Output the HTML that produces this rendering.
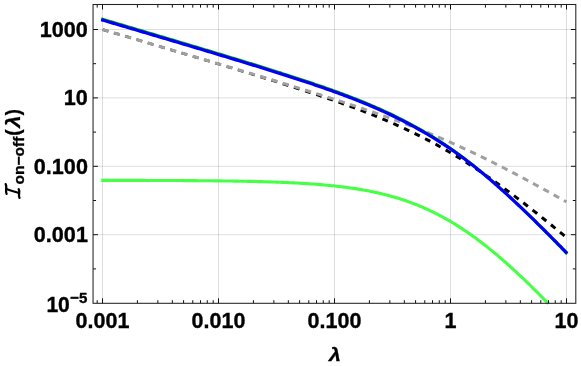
<!DOCTYPE html>
<html><head><meta charset="utf-8"><title>plot</title>
<style>html,body{margin:0;padding:0;background:#fff;}svg{display:block;will-change:transform}</style></head>
<body>
<svg width="581" height="366" viewBox="0 0 581 366">
<rect width="581" height="366" fill="#fff"/>
<path d="M102.50,4.5 V303.3 M218.50,4.5 V303.3 M334.50,4.5 V303.3 M450.50,4.5 V303.3 M566.50,4.5 V303.3 M93.05,29.50 H575.8 M93.05,97.90 H575.8 M93.05,166.30 H575.8 M93.05,234.70 H575.8" stroke="#000" stroke-opacity="0.13" stroke-width="1" fill="none"/>
<path d="M102.50,29.53 L104.05,29.99 L105.60,30.45 L107.16,30.91 L108.71,31.36 L110.26,31.82 L111.81,32.28 L113.36,32.74 L114.91,33.20 L116.47,33.66 L118.02,34.12 L119.57,34.57 L121.12,35.03 L122.67,35.49 L124.23,35.95 L125.78,36.41 L127.33,36.87 L128.88,37.33 L130.43,37.79 L131.98,38.25 L133.54,38.71 L135.09,39.16 L136.64,39.62 L138.19,40.08 L139.74,40.54 L141.30,41.00 L142.85,41.46 L144.40,41.92 L145.95,42.38 L147.50,42.84 L149.06,43.30 L150.61,43.76 L152.16,44.22 L153.71,44.68 L155.26,45.14 L156.81,45.60 L158.37,46.06 L159.92,46.52 L161.47,46.98 L163.02,47.44 L164.57,47.90 L166.13,48.36 L167.68,48.82 L169.23,49.29 L170.78,49.75 L172.33,50.21 L173.88,50.67 L175.44,51.13 L176.99,51.59 L178.54,52.05 L180.09,52.51 L181.64,52.98 L183.20,53.44 L184.75,53.90 L186.30,54.36 L187.85,54.83 L189.40,55.29 L190.95,55.75 L192.51,56.21 L194.06,56.68 L195.61,57.14 L197.16,57.60 L198.71,58.07 L200.27,58.53 L201.82,58.99 L203.37,59.46 L204.92,59.92 L206.47,60.39 L208.03,60.85 L209.58,61.32 L211.13,61.78 L212.68,62.25 L214.23,62.71 L215.78,63.18 L217.34,63.65 L218.89,64.11 L220.44,64.58 L221.99,65.05 L223.54,65.51 L225.10,65.98 L226.65,66.45 L228.20,66.92 L229.75,67.39 L231.30,67.86 L232.85,68.32 L234.41,68.79 L235.96,69.26 L237.51,69.73 L239.06,70.21 L240.61,70.68 L242.17,71.15 L243.72,71.62 L245.27,72.09 L246.82,72.57 L248.37,73.04 L249.92,73.51 L251.48,73.99 L253.03,74.46 L254.58,74.94" stroke="#000" stroke-width="2.6" fill="none" stroke-dasharray="5.8 5.95" stroke-dashoffset="-0.25"/>
<path d="M254.58,74.94 L256.13,75.42 L257.68,75.89 L259.24,76.37 L260.79,76.85 L262.34,77.33 L263.89,77.81 L265.44,78.28 L266.99,78.77 L268.55,79.25 L270.10,79.73 L271.65,80.21 L273.20,80.69 L274.75,81.18 L276.31,81.66 L277.86,82.15 L279.41,82.64 L280.96,83.12 L282.51,83.61 L284.07,84.10 L285.62,84.59 L287.17,85.08 L288.72,85.58 L290.27,86.07 L291.82,86.56 L293.38,87.06 L294.93,87.56 L296.48,88.06 L298.03,88.55 L299.58,89.06 L301.14,89.56 L302.69,90.06 L304.24,90.56 L305.79,91.07 L307.34,91.58 L308.89,92.09 L310.45,92.60 L312.00,93.11 L313.55,93.62 L315.10,94.14 L316.65,94.65 L318.21,95.17 L319.76,95.69 L321.31,96.21 L322.86,96.74 L324.41,97.26 L325.96,97.79 L327.52,98.32 L329.07,98.85 L330.62,99.39 L332.17,99.92 L333.72,100.46 L335.28,101.00 L336.83,101.54 L338.38,102.09 L339.93,102.64 L341.48,103.19 L343.04,103.74 L344.59,104.30 L346.14,104.86 L347.69,105.42 L349.24,105.98 L350.79,106.55 L352.35,107.12 L353.90,107.69 L355.45,108.27 L357.00,108.85 L358.55,109.43 L360.11,110.02 L361.66,110.61 L363.21,111.20 L364.76,111.80 L366.31,112.40 L367.86,113.00 L369.42,113.61 L370.97,114.22 L372.52,114.84 L374.07,115.46 L375.62,116.08 L377.18,116.71 L378.73,117.34 L380.28,117.98 L381.83,118.62 L383.38,119.27 L384.93,119.92 L386.49,120.58 L388.04,121.24 L389.59,121.90 L391.14,122.57 L392.69,123.25 L394.25,123.93 L395.80,124.61 L397.35,125.30 L398.90,126.00 L400.45,126.70 L402.01,127.41 L403.56,128.12 L405.11,128.84 L406.66,129.57 L408.21,130.30 L409.76,131.03 L411.32,131.78 L412.87,132.53 L414.42,133.28 L415.97,134.04 L417.52,134.81 L419.08,135.58 L420.63,136.36 L422.18,137.15 L423.73,137.94 L425.28,138.74 L426.83,139.55 L428.39,140.36 L429.94,141.18 L431.49,142.01 L433.04,142.84 L434.59,143.68 L436.15,144.53 L437.70,145.38 L439.25,146.24 L440.80,147.11 L442.35,147.98 L443.90,148.87 L445.46,149.75 L447.01,150.65 L448.56,151.55 L450.11,152.46 L451.66,153.38 L453.22,154.30 L454.77,155.23 L456.32,156.17 L457.87,157.12 L459.42,158.07 L460.97,159.03 L462.53,159.99 L464.08,160.97 L465.63,161.95 L467.18,162.93 L468.73,163.93 L470.29,164.93 L471.84,165.93 L473.39,166.95 L474.94,167.97 L476.49,169.00 L478.05,170.03 L479.60,171.07 L481.15,172.12 L482.70,173.17 L484.25,174.23 L485.80,175.30 L487.36,176.37 L488.91,177.45 L490.46,178.53 L492.01,179.62 L493.56,180.72 L495.12,181.82 L496.67,182.93 L498.22,184.04 L499.77,185.16 L501.32,186.29 L502.87,187.42 L504.43,188.55 L505.98,189.70 L507.53,190.84 L509.08,191.99 L510.63,193.15 L512.19,194.31 L513.74,195.48 L515.29,196.65 L516.84,197.83 L518.39,199.01 L519.94,200.20 L521.50,201.39 L523.05,202.58 L524.60,203.78 L526.15,204.99 L527.70,206.20 L529.26,207.41 L530.81,208.62 L532.36,209.84 L533.91,211.07 L535.46,212.29 L537.02,213.53 L538.57,214.76 L540.12,216.00 L541.67,217.24 L543.22,218.49 L544.77,219.74 L546.33,220.99 L547.88,222.24 L549.43,223.50 L550.98,224.76 L552.53,226.03 L554.09,227.30 L555.64,228.57 L557.19,229.84 L558.74,231.11 L560.29,232.39 L561.84,233.67 L563.40,234.96 L564.95,236.24 L566.50,237.53" stroke="#000" stroke-width="3" fill="none" stroke-dasharray="5.8 5.95" stroke-dashoffset="5.716"/>
<path d="M102.50,29.51 L104.05,29.97 L105.60,30.43 L107.16,30.89 L108.71,31.35 L110.26,31.80 L111.81,32.26 L113.36,32.72 L114.91,33.18 L116.47,33.64 L118.02,34.10 L119.57,34.55 L121.12,35.01 L122.67,35.47 L124.23,35.93 L125.78,36.39 L127.33,36.84 L128.88,37.30 L130.43,37.76 L131.98,38.22 L133.54,38.68 L135.09,39.14 L136.64,39.59 L138.19,40.05 L139.74,40.51 L141.30,40.97 L142.85,41.43 L144.40,41.89 L145.95,42.35 L147.50,42.80 L149.06,43.26 L150.61,43.72 L152.16,44.18 L153.71,44.64 L155.26,45.10 L156.81,45.56 L158.37,46.02 L159.92,46.47 L161.47,46.93 L163.02,47.39 L164.57,47.85 L166.13,48.31 L167.68,48.77 L169.23,49.23 L170.78,49.69 L172.33,50.15 L173.88,50.61 L175.44,51.07 L176.99,51.53 L178.54,51.99 L180.09,52.45 L181.64,52.91 L183.20,53.36 L184.75,53.82 L186.30,54.28 L187.85,54.74 L189.40,55.20 L190.95,55.66 L192.51,56.12 L194.06,56.59 L195.61,57.05 L197.16,57.51 L198.71,57.97 L200.27,58.43 L201.82,58.89 L203.37,59.35 L204.92,59.81 L206.47,60.27 L208.03,60.73 L209.58,61.19 L211.13,61.65 L212.68,62.12 L214.23,62.58 L215.78,63.04 L217.34,63.50 L218.89,63.96 L220.44,64.43 L221.99,64.89 L223.54,65.35 L225.10,65.81 L226.65,66.28 L228.20,66.74 L229.75,67.20 L231.30,67.66 L232.85,68.13 L234.41,68.59 L235.96,69.06 L237.51,69.52 L239.06,69.98 L240.61,70.45 L242.17,70.91 L243.72,71.38 L245.27,71.84 L246.82,72.31 L248.37,72.77 L249.92,73.24 L251.48,73.71 L253.03,74.17 L254.58,74.64 L256.13,75.11 L257.68,75.57 L259.24,76.04 L260.79,76.51 L262.34,76.98 L263.89,77.44 L265.44,77.91 L266.99,78.38 L268.55,78.85 L270.10,79.32 L271.65,79.79 L273.20,80.26 L274.75,80.73 L276.31,81.20 L277.86,81.68 L279.41,82.15 L280.96,82.62 L282.51,83.09 L284.07,83.57 L285.62,84.04 L287.17,84.51 L288.72,84.99 L290.27,85.47 L291.82,85.94 L293.38,86.42 L294.93,86.90 L296.48,87.37 L298.03,87.85 L299.58,88.33 L301.14,88.81 L302.69,89.29 L304.24,89.77 L305.79,90.25 L307.34,90.74 L308.89,91.22 L310.45,91.70 L312.00,92.19 L313.55,92.67 L315.10,93.16 L316.65,93.65 L318.21,94.13 L319.76,94.62 L321.31,95.11 L322.86,95.60 L324.41,96.09 L325.96,96.59 L327.52,97.08 L329.07,97.58 L330.62,98.07 L332.17,98.57 L333.72,99.07 L335.28,99.57 L336.83,100.07 L338.38,100.57 L339.93,101.07 L341.48,101.57 L343.04,102.08 L344.59,102.59 L346.14,103.09 L347.69,103.60 L349.24,104.11 L350.79,104.63 L352.35,105.14 L353.90,105.66 L355.45,106.17 L357.00,106.69 L358.55,107.21 L360.11,107.73 L361.66,108.26 L363.21,108.78 L364.76,109.31 L366.31,109.84 L367.86,110.37 L369.42,110.90 L370.97,111.44 L372.52,111.97 L374.07,112.51 L375.62,113.05 L377.18,113.60 L378.73,114.14 L380.28,114.69 L381.83,115.24 L383.38,115.79 L384.93,116.34 L386.49,116.90 L388.04,117.46 L389.59,118.02 L391.14,118.59 L392.69,119.15 L394.25,119.72 L395.80,120.29 L397.35,120.87 L398.90,121.44 L400.45,122.02 L402.01,122.61 L403.56,123.19 L405.11,123.78 L406.66,124.37 L408.21,124.97 L409.76,125.56 L411.32,126.16 L412.87,126.77 L414.42,127.37 L415.97,127.98 L417.52,128.59 L419.08,129.21 L420.63,129.83 L422.18,130.45 L423.73,131.07 L425.28,131.70 L426.83,132.34 L428.39,132.97 L429.94,133.61 L431.49,134.25 L433.04,134.90 L434.59,135.55 L436.15,136.20 L437.70,136.85 L439.25,137.51 L440.80,138.17 L442.35,138.84 L443.90,139.51 L445.46,140.18 L447.01,140.86 L448.56,141.54 L450.11,142.22 L451.66,142.91 L453.22,143.60 L454.77,144.30 L456.32,144.99 L457.87,145.69 L459.42,146.40 L460.97,147.11 L462.53,147.82 L464.08,148.53 L465.63,149.25 L467.18,149.98 L468.73,150.70 L470.29,151.43 L471.84,152.16 L473.39,152.90 L474.94,153.64 L476.49,154.38 L478.05,155.13 L479.60,155.87 L481.15,156.63 L482.70,157.38 L484.25,158.14 L485.80,158.90 L487.36,159.67 L488.91,160.43 L490.46,161.21 L492.01,161.98 L493.56,162.76 L495.12,163.54 L496.67,164.32 L498.22,165.11 L499.77,165.89 L501.32,166.69 L502.87,167.48 L504.43,168.28 L505.98,169.08 L507.53,169.88 L509.08,170.68 L510.63,171.49 L512.19,172.30 L513.74,173.11 L515.29,173.93 L516.84,174.74 L518.39,175.56 L519.94,176.39 L521.50,177.21 L523.05,178.04 L524.60,178.87 L526.15,179.70 L527.70,180.53 L529.26,181.36 L530.81,182.20 L532.36,183.04 L533.91,183.88 L535.46,184.72 L537.02,185.57 L538.57,186.41 L540.12,187.26 L541.67,188.11 L543.22,188.96 L544.77,189.82 L546.33,190.67 L547.88,191.53 L549.43,192.38 L550.98,193.24 L552.53,194.11 L554.09,194.97 L555.64,195.83 L557.19,196.70 L558.74,197.56 L560.29,198.43 L561.84,199.30 L563.40,200.17 L564.95,201.04 L566.50,201.92" stroke="#a0a0a0" stroke-width="3" fill="none" stroke-dasharray="6.3 5.45"/>
<path d="M101.20,180.34 L102.76,180.35 L104.32,180.35 L105.88,180.35 L107.43,180.35 L108.99,180.35 L110.55,180.36 L112.11,180.36 L113.67,180.36 L115.23,180.36 L116.79,180.36 L118.34,180.37 L119.90,180.37 L121.46,180.37 L123.02,180.37 L124.58,180.38 L126.14,180.38 L127.69,180.38 L129.25,180.39 L130.81,180.39 L132.37,180.39 L133.93,180.40 L135.49,180.40 L137.05,180.40 L138.60,180.41 L140.16,180.41 L141.72,180.41 L143.28,180.42 L144.84,180.42 L146.40,180.43 L147.96,180.43 L149.51,180.44 L151.07,180.44 L152.63,180.45 L154.19,180.45 L155.75,180.46 L157.31,180.46 L158.87,180.47 L160.42,180.47 L161.98,180.48 L163.54,180.48 L165.10,180.49 L166.66,180.50 L168.22,180.50 L169.78,180.51 L171.33,180.52 L172.89,180.53 L174.45,180.53 L176.01,180.54 L177.57,180.55 L179.13,180.56 L180.68,180.57 L182.24,180.57 L183.80,180.58 L185.36,180.59 L186.92,180.60 L188.48,180.61 L190.04,180.62 L191.59,180.63 L193.15,180.64 L194.71,180.65 L196.27,180.67 L197.83,180.68 L199.39,180.69 L200.95,180.70 L202.50,180.72 L204.06,180.73 L205.62,180.74 L207.18,180.76 L208.74,180.77 L210.30,180.79 L211.86,180.80 L213.41,180.82 L214.97,180.84 L216.53,180.85 L218.09,180.87 L219.65,180.89 L221.21,180.91 L222.77,180.93 L224.32,180.95 L225.88,180.97 L227.44,180.99 L229.00,181.01 L230.56,181.04 L232.12,181.06 L233.67,181.08 L235.23,181.11 L236.79,181.13 L238.35,181.16 L239.91,181.19 L241.47,181.22 L243.03,181.24 L244.58,181.27 L246.14,181.31 L247.70,181.34 L249.26,181.37 L250.82,181.40 L252.38,181.44 L253.94,181.47 L255.49,181.51 L257.05,181.55 L258.61,181.59 L260.17,181.63 L261.73,181.67 L263.29,181.71 L264.85,181.76 L266.40,181.80 L267.96,181.85 L269.52,181.90 L271.08,181.95 L272.64,182.00 L274.20,182.05 L275.76,182.11 L277.31,182.16 L278.87,182.22 L280.43,182.28 L281.99,182.34 L283.55,182.41 L285.11,182.47 L286.66,182.54 L288.22,182.61 L289.78,182.68 L291.34,182.76 L292.90,182.83 L294.46,182.91 L296.02,182.99 L297.57,183.07 L299.13,183.16 L300.69,183.25 L302.25,183.34 L303.81,183.43 L305.37,183.53 L306.93,183.63 L308.48,183.73 L310.04,183.83 L311.60,183.94 L313.16,184.05 L314.72,184.17 L316.28,184.29 L317.84,184.41 L319.39,184.53 L320.95,184.66 L322.51,184.79 L324.07,184.93 L325.63,185.07 L327.19,185.21 L328.75,185.36 L330.30,185.51 L331.86,185.67 L333.42,185.83 L334.98,186.00 L336.54,186.17 L338.10,186.35 L339.65,186.53 L341.21,186.71 L342.77,186.90 L344.33,187.10 L345.89,187.30 L347.45,187.51 L349.01,187.72 L350.56,187.94 L352.12,188.17 L353.68,188.40 L355.24,188.64 L356.80,188.88 L358.36,189.13 L359.92,189.39 L361.47,189.65 L363.03,189.93 L364.59,190.21 L366.15,190.49 L367.71,190.79 L369.27,191.09 L370.83,191.40 L372.38,191.71 L373.94,192.04 L375.50,192.37 L377.06,192.72 L378.62,193.07 L380.18,193.43 L381.74,193.80 L383.29,194.18 L384.85,194.56 L386.41,194.96 L387.97,195.37 L389.53,195.79 L391.09,196.21 L392.64,196.65 L394.20,197.10 L395.76,197.56 L397.32,198.03 L398.88,198.51 L400.44,199.00 L402.00,199.50 L403.55,200.01 L405.11,200.54 L406.67,201.07 L408.23,201.62 L409.79,202.18 L411.35,202.76 L412.91,203.34 L414.46,203.94 L416.02,204.55 L417.58,205.17 L419.14,205.81 L420.70,206.46 L422.26,207.12 L423.82,207.79 L425.37,208.48 L426.93,209.18 L428.49,209.90 L430.05,210.62 L431.61,211.37 L433.17,212.12 L434.73,212.89 L436.28,213.67 L437.84,214.47 L439.40,215.28 L440.96,216.11 L442.52,216.95 L444.08,217.80 L445.63,218.67 L447.19,219.55 L448.75,220.44 L450.31,221.35 L451.87,222.28 L453.43,223.22 L454.99,224.17 L456.54,225.14 L458.10,226.12 L459.66,227.11 L461.22,228.12 L462.78,229.15 L464.34,230.18 L465.90,231.24 L467.45,232.30 L469.01,233.38 L470.57,234.47 L472.13,235.58 L473.69,236.70 L475.25,237.83 L476.81,238.98 L478.36,240.14 L479.92,241.31 L481.48,242.50 L483.04,243.70 L484.60,244.91 L486.16,246.14 L487.72,247.37 L489.27,248.62 L490.83,249.89 L492.39,251.16 L493.95,252.45 L495.51,253.75 L497.07,255.06 L498.62,256.38 L500.18,257.71 L501.74,259.05 L503.30,260.41 L504.86,261.78 L506.42,263.15 L507.98,264.54 L509.53,265.94 L511.09,267.35 L512.65,268.77 L514.21,270.19 L515.77,271.63 L517.33,273.08 L518.89,274.54 L520.44,276.00 L522.00,277.48 L523.56,278.96 L525.12,280.46 L526.68,281.96 L528.24,283.47 L529.80,284.99 L531.35,286.51 L532.91,288.05 L534.47,289.59 L536.03,291.14 L537.59,292.70 L539.15,294.26 L540.71,295.83 L542.26,297.41 L543.82,299.00 L545.38,300.59 L546.94,302.19 L548.50,303.79" stroke="#47ff47" stroke-width="3.1" fill="none"/>
<path d="M101.20,18.66 L102.76,19.12 L104.32,19.58 L105.88,20.04 L107.43,20.50 L108.99,20.97 L110.55,21.43 L112.11,21.89 L113.67,22.35 L115.23,22.81 L116.79,23.27 L118.34,23.73 L119.90,24.20 L121.46,24.66 L123.02,25.12 L124.58,25.58 L126.14,26.04 L127.69,26.50 L129.25,26.97 L130.81,27.43 L132.37,27.89 L133.93,28.35 L135.49,28.81 L137.05,29.28 L138.60,29.74 L140.16,30.20 L141.72,30.66 L143.28,31.13 L144.84,31.59 L146.40,32.05 L147.96,32.51 L149.51,32.98 L151.07,33.44 L152.63,33.90 L154.19,34.36 L155.75,34.83 L157.31,35.29 L158.87,35.75 L160.42,36.22 L161.98,36.68 L163.54,37.15 L165.10,37.61 L166.66,38.07 L168.22,38.54 L169.78,39.00 L171.33,39.46 L172.89,39.93 L174.45,40.39 L176.01,40.86 L177.57,41.32 L179.13,41.79 L180.68,42.25 L182.24,42.72 L183.80,43.18 L185.36,43.65 L186.92,44.11 L188.48,44.58 L190.04,45.05 L191.59,45.51 L193.15,45.98 L194.71,46.45 L196.27,46.91 L197.83,47.38 L199.39,47.85 L200.95,48.32 L202.50,48.78 L204.06,49.25 L205.62,49.72 L207.18,50.19 L208.74,50.66 L210.30,51.13 L211.86,51.60 L213.41,52.06 L214.97,52.53 L216.53,53.00 L218.09,53.48 L219.65,53.95 L221.21,54.42 L222.77,54.89 L224.32,55.36 L225.88,55.83 L227.44,56.31 L229.00,56.78 L230.56,57.25 L232.12,57.73 L233.67,58.20 L235.23,58.68 L236.79,59.15 L238.35,59.63 L239.91,60.10 L241.47,60.58 L243.03,61.06 L244.58,61.53 L246.14,62.01 L247.70,62.49 L249.26,62.97 L250.82,63.45 L252.38,63.93 L253.94,64.41 L255.49,64.89 L257.05,65.38 L258.61,65.86 L260.17,66.35 L261.73,66.83 L263.29,67.32 L264.85,67.80 L266.40,68.29 L267.96,68.78 L269.52,69.27 L271.08,69.76 L272.64,70.25 L274.20,70.74 L275.76,71.23 L277.31,71.72 L278.87,72.22 L280.43,72.71 L281.99,73.21 L283.55,73.71 L285.11,74.21 L286.66,74.71 L288.22,75.21 L289.78,75.71 L291.34,76.22 L292.90,76.72 L294.46,77.23 L296.02,77.74 L297.57,78.24 L299.13,78.76 L300.69,79.27 L302.25,79.78 L303.81,80.30 L305.37,80.82 L306.93,81.33 L308.48,81.86 L310.04,82.38 L311.60,82.90 L313.16,83.43 L314.72,83.96 L316.28,84.49 L317.84,85.02 L319.39,85.56 L320.95,86.09 L322.51,86.63 L324.07,87.18 L325.63,87.72 L327.19,88.27 L328.75,88.82 L330.30,89.37 L331.86,89.92 L333.42,90.48 L334.98,91.04 L336.54,91.61 L338.10,92.17 L339.65,92.74 L341.21,93.32 L342.77,93.90 L344.33,94.48 L345.89,95.06 L347.45,95.65 L349.01,96.24 L350.56,96.84 L352.12,97.44 L353.68,98.04 L355.24,98.65 L356.80,99.26 L358.36,99.88 L359.92,100.50 L361.47,101.13 L363.03,101.76 L364.59,102.40 L366.15,103.04 L367.71,103.69 L369.27,104.35 L370.83,105.01 L372.38,105.67 L373.94,106.34 L375.50,107.02 L377.06,107.70 L378.62,108.39 L380.18,109.08 L381.74,109.78 L383.29,110.49 L384.85,111.20 L386.41,111.92 L387.97,112.65 L389.53,113.38 L391.09,114.12 L392.64,114.86 L394.20,115.63 L395.76,116.39 L397.32,117.17 L398.88,117.95 L400.44,118.74 L402.00,119.53 L403.55,120.33 L405.11,121.14 L406.67,121.96 L408.23,122.78 L409.79,123.61 L411.35,124.45 L412.91,125.29 L414.46,126.14 L416.02,127.00 L417.58,127.87 L419.14,128.75 L420.70,129.63 L422.26,130.53 L423.82,131.43 L425.37,132.34 L426.93,133.25 L428.49,134.18 L430.05,135.12 L431.61,136.06 L433.17,137.02 L434.73,137.98 L436.28,138.96 L437.84,139.94 L439.40,140.94 L440.96,141.95 L442.52,142.96 L444.08,143.99 L445.63,145.03 L447.19,146.07 L448.75,147.13 L450.31,148.20 L451.87,149.29 L453.43,150.39 L454.99,151.50 L456.54,152.63 L458.10,153.76 L459.66,154.91 L461.22,156.06 L462.78,157.23 L464.34,158.41 L465.90,159.60 L467.45,160.80 L469.01,162.01 L470.57,163.23 L472.13,164.46 L473.69,165.71 L475.25,166.96 L476.81,168.23 L478.36,169.50 L479.92,170.78 L481.48,172.08 L483.04,173.38 L484.60,174.69 L486.16,176.02 L487.72,177.35 L489.27,178.69 L490.83,180.04 L492.39,181.40 L493.95,182.76 L495.51,184.14 L497.07,185.52 L498.62,186.92 L500.18,188.32 L501.74,189.72 L503.30,191.14 L504.86,192.56 L506.42,193.99 L507.98,195.43 L509.53,196.87 L511.09,198.32 L512.65,199.78 L514.21,201.25 L515.77,202.72 L517.33,204.19 L518.89,205.68 L520.44,207.17 L522.00,208.66 L523.56,210.16 L525.12,211.67 L526.68,213.18 L528.24,214.70 L529.80,216.22 L531.35,217.75 L532.91,219.28 L534.47,220.82 L536.03,222.37 L537.59,223.91 L539.15,225.47 L540.71,227.02 L542.26,228.58 L543.82,230.15 L545.38,231.72 L546.94,233.29 L548.50,234.87 L550.06,236.45 L551.61,238.04 L553.17,239.63 L554.73,241.22 L556.29,242.81 L557.85,244.41 L559.41,246.02 L560.97,247.62 L562.52,249.23 L564.08,250.84 L565.64,252.46 L567.20,254.07" stroke="#00b400" stroke-width="2.8" fill="none"/>
<path d="M101.20,19.66 L102.76,20.12 L104.32,20.58 L105.88,21.04 L107.43,21.50 L108.99,21.96 L110.55,22.42 L112.11,22.89 L113.67,23.35 L115.23,23.81 L116.79,24.27 L118.34,24.73 L119.90,25.19 L121.46,25.65 L123.02,26.11 L124.58,26.57 L126.14,27.03 L127.69,27.50 L129.25,27.96 L130.81,28.42 L132.37,28.88 L133.93,29.34 L135.49,29.80 L137.05,30.26 L138.60,30.73 L140.16,31.19 L141.72,31.65 L143.28,32.11 L144.84,32.57 L146.40,33.04 L147.96,33.50 L149.51,33.96 L151.07,34.42 L152.63,34.88 L154.19,35.35 L155.75,35.81 L157.31,36.27 L158.87,36.74 L160.42,37.20 L161.98,37.66 L163.54,38.12 L165.10,38.59 L166.66,39.05 L168.22,39.51 L169.78,39.98 L171.33,40.44 L172.89,40.90 L174.45,41.37 L176.01,41.83 L177.57,42.30 L179.13,42.76 L180.68,43.23 L182.24,43.69 L183.80,44.16 L185.36,44.62 L186.92,45.09 L188.48,45.55 L190.04,46.02 L191.59,46.48 L193.15,46.95 L194.71,47.41 L196.27,47.88 L197.83,48.35 L199.39,48.81 L200.95,49.28 L202.50,49.75 L204.06,50.22 L205.62,50.68 L207.18,51.15 L208.74,51.62 L210.30,52.09 L211.86,52.56 L213.41,53.03 L214.97,53.50 L216.53,53.97 L218.09,54.44 L219.65,54.91 L221.21,55.38 L222.77,55.85 L224.32,56.32 L225.88,56.79 L227.44,57.26 L229.00,57.74 L230.56,58.21 L232.12,58.68 L233.67,59.16 L235.23,59.63 L236.79,60.10 L238.35,60.58 L239.91,61.06 L241.47,61.53 L243.03,62.01 L244.58,62.49 L246.14,62.96 L247.70,63.44 L249.26,63.92 L250.82,64.40 L252.38,64.88 L253.94,65.36 L255.49,65.84 L257.05,66.32 L258.61,66.81 L260.17,67.29 L261.73,67.77 L263.29,68.26 L264.85,68.75 L266.40,69.23 L267.96,69.72 L269.52,70.21 L271.08,70.70 L272.64,71.19 L274.20,71.68 L275.76,72.17 L277.31,72.66 L278.87,73.16 L280.43,73.65 L281.99,74.15 L283.55,74.65 L285.11,75.14 L286.66,75.64 L288.22,76.14 L289.78,76.65 L291.34,77.15 L292.90,77.66 L294.46,78.16 L296.02,78.67 L297.57,79.18 L299.13,79.69 L300.69,80.20 L302.25,80.71 L303.81,81.23 L305.37,81.75 L306.93,82.26 L308.48,82.78 L310.04,83.31 L311.60,83.83 L313.16,84.36 L314.72,84.89 L316.28,85.42 L317.84,85.95 L319.39,86.48 L320.95,87.02 L322.51,87.56 L324.07,88.10 L325.63,88.64 L327.19,89.19 L328.75,89.74 L330.30,90.29 L331.86,90.85 L333.42,91.40 L334.98,91.96 L336.54,92.53 L338.10,93.09 L339.65,93.66 L341.21,94.24 L342.77,94.81 L344.33,95.39 L345.89,95.98 L347.45,96.56 L349.01,97.16 L350.56,97.75 L352.12,98.35 L353.68,98.95 L355.24,99.56 L356.80,100.18 L358.36,100.79 L359.92,101.42 L361.47,102.04 L363.03,102.67 L364.59,103.31 L366.15,103.95 L367.71,104.60 L369.27,105.25 L370.83,105.91 L372.38,106.58 L373.94,107.25 L375.50,107.92 L377.06,108.60 L378.62,109.29 L380.18,109.99 L381.74,110.69 L383.29,111.39 L384.85,112.10 L386.41,112.82 L387.97,113.55 L389.53,114.28 L391.09,115.02 L392.64,115.76 L394.20,116.52 L395.76,117.27 L397.32,118.04 L398.88,118.81 L400.44,119.59 L402.00,120.37 L403.55,121.17 L405.11,121.96 L406.67,122.77 L408.23,123.58 L409.79,124.41 L411.35,125.23 L412.91,126.07 L414.46,126.91 L416.02,127.76 L417.58,128.62 L419.14,129.49 L420.70,130.36 L422.26,131.25 L423.82,132.14 L425.37,133.04 L426.93,133.95 L428.49,134.86 L430.05,135.79 L431.61,136.73 L433.17,137.67 L434.73,138.63 L436.28,139.59 L437.84,140.57 L439.40,141.56 L440.96,142.55 L442.52,143.56 L444.08,144.58 L445.63,145.61 L447.19,146.64 L448.75,147.69 L450.31,148.76 L451.87,149.83 L453.43,150.91 L454.99,152.01 L456.54,153.11 L458.10,154.23 L459.66,155.36 L461.22,156.50 L462.78,157.65 L464.34,158.81 L465.90,159.98 L467.45,161.17 L469.01,162.36 L470.57,163.57 L472.13,164.78 L473.69,166.01 L475.25,167.25 L476.81,168.49 L478.36,169.75 L479.92,171.02 L481.48,172.29 L483.04,173.58 L484.60,174.88 L486.16,176.18 L487.72,177.50 L489.27,178.82 L490.83,180.15 L492.39,181.50 L493.95,182.85 L495.51,184.21 L497.07,185.57 L498.62,186.95 L500.18,188.33 L501.74,189.72 L503.30,191.12 L504.86,192.52 L506.42,193.94 L507.98,195.36 L509.53,196.79 L511.09,198.22 L512.65,199.66 L514.21,201.11 L515.77,202.56 L517.33,204.02 L518.89,205.49 L520.44,206.96 L522.00,208.44 L523.56,209.93 L525.12,211.42 L526.68,212.91 L528.24,214.41 L529.80,215.92 L531.35,217.43 L532.91,218.95 L534.47,220.47 L536.03,221.99 L537.59,223.52 L539.15,225.06 L540.71,226.60 L542.26,228.14 L543.82,229.69 L545.38,231.25 L546.94,232.80 L548.50,234.36 L550.06,235.93 L551.61,237.50 L553.17,239.07 L554.73,240.64 L556.29,242.22 L557.85,243.81 L559.41,245.39 L560.97,246.98 L562.52,248.57 L564.08,250.17 L565.64,251.77 L567.20,253.37" stroke="#0000fa" stroke-width="3.2" fill="none"/>
<path d="M97.19,303.3 v-3.1 M97.19,4.5 v3.1 M102.50,303.3 v-5.0 M102.50,4.5 v5.0 M137.42,303.3 v-3.1 M137.42,4.5 v3.1 M157.85,303.3 v-3.1 M157.85,4.5 v3.1 M172.34,303.3 v-3.1 M172.34,4.5 v3.1 M183.58,303.3 v-3.1 M183.58,4.5 v3.1 M192.77,303.3 v-3.1 M192.77,4.5 v3.1 M200.53,303.3 v-3.1 M200.53,4.5 v3.1 M207.26,303.3 v-3.1 M207.26,4.5 v3.1 M213.19,303.3 v-3.1 M213.19,4.5 v3.1 M218.50,303.3 v-5.0 M218.50,4.5 v5.0 M253.42,303.3 v-3.1 M253.42,4.5 v3.1 M273.85,303.3 v-3.1 M273.85,4.5 v3.1 M288.34,303.3 v-3.1 M288.34,4.5 v3.1 M299.58,303.3 v-3.1 M299.58,4.5 v3.1 M308.77,303.3 v-3.1 M308.77,4.5 v3.1 M316.53,303.3 v-3.1 M316.53,4.5 v3.1 M323.26,303.3 v-3.1 M323.26,4.5 v3.1 M329.19,303.3 v-3.1 M329.19,4.5 v3.1 M334.50,303.3 v-5.0 M334.50,4.5 v5.0 M369.42,303.3 v-3.1 M369.42,4.5 v3.1 M389.85,303.3 v-3.1 M389.85,4.5 v3.1 M404.34,303.3 v-3.1 M404.34,4.5 v3.1 M415.58,303.3 v-3.1 M415.58,4.5 v3.1 M424.77,303.3 v-3.1 M424.77,4.5 v3.1 M432.53,303.3 v-3.1 M432.53,4.5 v3.1 M439.26,303.3 v-3.1 M439.26,4.5 v3.1 M445.19,303.3 v-3.1 M445.19,4.5 v3.1 M450.50,303.3 v-5.0 M450.50,4.5 v5.0 M485.42,303.3 v-3.1 M485.42,4.5 v3.1 M505.85,303.3 v-3.1 M505.85,4.5 v3.1 M520.34,303.3 v-3.1 M520.34,4.5 v3.1 M531.58,303.3 v-3.1 M531.58,4.5 v3.1 M540.77,303.3 v-3.1 M540.77,4.5 v3.1 M548.53,303.3 v-3.1 M548.53,4.5 v3.1 M555.26,303.3 v-3.1 M555.26,4.5 v3.1 M561.19,303.3 v-3.1 M561.19,4.5 v3.1 M566.50,303.3 v-5.0 M566.50,4.5 v5.0 M93.05,268.90 h3.0 M575.8,268.90 h-3.0 M93.05,234.70 h4.9 M575.8,234.70 h-4.9 M93.05,200.50 h3.0 M575.8,200.50 h-3.0 M93.05,166.30 h4.9 M575.8,166.30 h-4.9 M93.05,132.10 h3.0 M575.8,132.10 h-3.0 M93.05,97.90 h4.9 M575.8,97.90 h-4.9 M93.05,63.70 h3.0 M575.8,63.70 h-3.0 M93.05,29.50 h4.9 M575.8,29.50 h-4.9" stroke="#111" stroke-width="1" fill="none"/>
<rect x="93.05" y="4.5" width="482.74999999999994" height="298.8" fill="none" stroke="#222" stroke-width="1.05"/>
<g style="font-family:'Liberation Sans',sans-serif;font-weight:bold;font-size:21.3px;fill:#000;stroke:#000;stroke-width:0.35px">
<text transform="translate(102.50,327.7) scale(1.01,1.065)" text-anchor="middle">0.001</text>
<text transform="translate(218.50,327.7) scale(1.01,1.065)" text-anchor="middle">0.010</text>
<text transform="translate(334.50,327.7) scale(1.01,1.065)" text-anchor="middle">0.100</text>
<text transform="translate(450.50,327.7) scale(1.01,1.065)" text-anchor="middle">1</text>
<text transform="translate(566.50,327.7) scale(1.01,1.065)" text-anchor="middle">10</text>
<text transform="translate(87.9,37.00) scale(1.015,1.065)" text-anchor="end">1000</text>
<text transform="translate(87.9,105.40) scale(1.015,1.065)" text-anchor="end">10</text>
<text transform="translate(87.9,173.80) scale(1.015,1.065)" text-anchor="end">0.100</text>
<text transform="translate(87.9,242.20) scale(1.015,1.065)" text-anchor="end">0.001</text>
<text transform="translate(46.4,312.2) scale(0.99,1.05)">10</text>
<text transform="translate(70.2,302.9)" style="font-size:15.1px">−5</text>
<text transform="translate(335.0,360.8) scale(1.1,1)" x="0" y="0" text-anchor="middle" style="font-style:italic;font-size:19.3px">λ</text>
<g transform="translate(20.3,199) rotate(-90)"><g fill="none" stroke="#000" stroke-linecap="round" style="stroke-width:2px"><path d="M5.2,-13.7 C7.8,-15.4 11.6,-12.9 14.9,-14.6" style="stroke-width:2.3px"/><path d="M10.0,-13.8 C8.2,-10 7.6,-5 6.0,-1.4" style="stroke-width:2px"/><path d="M1.1,-0.8 C3.8,-2.5 7,0.1 9.8,-1.6" style="stroke-width:2.3px"/></g><text x="14.6" y="3.7" style="font-size:15.5px">on−off</text><text x="63.2" y="-0.6" style="font-size:19.5px;stroke-width:0.2px">(</text><text transform="translate(71.2,0) scale(1.1,1)" x="0" y="0" style="font-size:20px;font-style:italic;stroke-width:0.25px">λ</text><text x="83.4" y="-0.6" style="font-size:19.5px;stroke-width:0.2px">)</text></g>
</g>
</svg>
</body></html>
